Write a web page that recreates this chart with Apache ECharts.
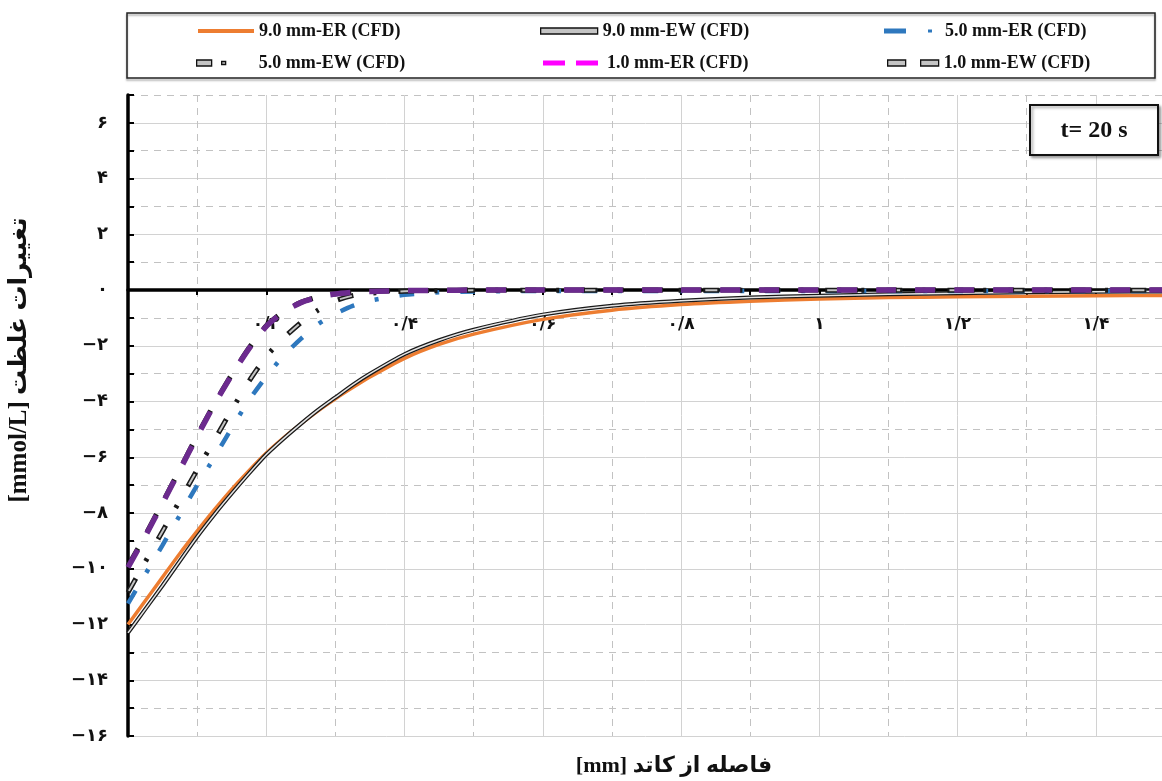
<!DOCTYPE html>
<html>
<head>
<meta charset="utf-8">
<script src="https://cdn.jsdelivr.net/npm/echarts@6/dist/echarts.min.js"></script>
<style>
  html, body { margin: 0; padding: 0; background: #ffffff; }
  #chart { width: 1162px; height: 781px; }
</style>
</head>
<body>
<div id="chart"></div>
<script>
// Distance from the cathode [mm]
const xs = [0, 0.025, 0.05, 0.075, 0.1, 0.125, 0.15, 0.175, 0.2, 0.225, 0.25, 0.275, 0.3, 0.325, 0.35,
            0.4, 0.45, 0.5, 0.6, 0.7, 0.8, 0.9, 1.0, 1.1, 1.2, 1.3, 1.4, 1.5];

// Concentration change [mmol/L] at t = 20 s
const er90 = [-12.0, -11.15, -10.3, -9.45, -8.65, -7.88, -7.15, -6.48, -5.85, -5.3, -4.8, -4.33, -3.9, -3.5, -3.12,
              -2.45, -1.95, -1.58, -1.05, -0.72, -0.52, -0.4, -0.32, -0.27, -0.24, -0.22, -0.2, -0.19];
const ew90 = [-12.3, -11.45, -10.6, -9.72, -8.85, -8.05, -7.3, -6.58, -5.9, -5.33, -4.8, -4.3, -3.85, -3.4, -3.0,
              -2.3, -1.8, -1.42, -0.88, -0.56, -0.38, -0.27, -0.2, -0.15, -0.11, -0.08, -0.06, -0.05];
const er50 = [-11.25, -10.2, -9.15, -8.08, -7.0, -6.0, -4.95, -3.95, -3.1, -2.35, -1.75, -1.22, -0.85, -0.57, -0.38,
              -0.17, -0.08, -0.05, -0.03, -0.03, -0.03, -0.03, -0.03, -0.03, -0.03, -0.03, -0.03, -0.03];
const ew50 = [-10.85, -9.75, -8.65, -7.55, -6.45, -5.38, -4.3, -3.27, -2.38, -1.72, -1.17, -0.72, -0.38, -0.2, -0.11,
              -0.04, -0.02, -0.01, -0.01, -0.01, -0.01, -0.01, -0.01, -0.01, -0.01, -0.01, -0.01, -0.01];
const er10 = [-9.95, -8.83, -7.65, -6.45, -5.25, -4.1, -3.05, -2.1, -1.3, -0.78, -0.45, -0.25, -0.14, -0.08, -0.05,
              -0.02, -0.01, 0, 0, 0, 0, 0, 0, 0, 0, 0, 0, 0];
const ew10 = [-9.9, -8.8, -7.62, -6.43, -5.22, -4.08, -3.03, -2.08, -1.28, -0.77, -0.44, -0.24, -0.13, -0.07, -0.04,
              -0.02, -0.01, 0, 0, 0, 0, 0, 0, 0, 0, 0, 0, 0];

const seriesNames = ['9.0 mm-ER (CFD)', '9.0 mm-EW (CFD)', '5.0 mm-ER (CFD)',
                     '5.0 mm-EW (CFD)', '1.0 mm-ER (CFD)', '1.0 mm-EW (CFD)'];

// Axis ranges and tick labels (Persian digits)
const xMin = 0, xMax = 1.5, xStep = 0.1;
const yMin = -16, yMax = 7, yStep = 1;
const yTickValues = [6, 4, 2, 0, -2, -4, -6, -8, -10, -12, -14, -16];
const yTickLabels = ['۶', '۴', '۲', '۰', '−۲', '−۴', '−۶', '−۸', '−۱۰', '−۱۲', '−۱۴', '−۱۶'];
const xTickValues = [0.2, 0.4, 0.6, 0.8, 1.0, 1.2, 1.4];
const xTickLabels = ['۰/۲', '۰/۴', '۰/۶', '۰/۸', '۱', '۱/۲', '۱/۴'];

// Titles (RTL embedding keeps the Persian phrase in logical order)
const xTitle = '\u202Bفاصله از کاتد [mm]\u202C';
const yTitle = '\u202Bتغییرات غلظت [mmol/L]\u202C';
const timeLabel = 't= 20 s';

const W = 1162, H = 781;
const gridBox = { left: 128, top: 95, right: -3, bottom: 45 };
// the labelled x axis runs along y = 0 inside the plot
const plotH = H - gridBox.top - gridBox.bottom;
const zeroDrop = plotH * (yMax - 0) / (yMax - yMin);

const pts = vals => xs.map((x, i) => [x, vals[i]]);

const lineBase = {
  type: 'line', symbol: 'none', smooth: 0.2,
  xAxisIndex: 0, yAxisIndex: 0, silent: true, animation: false
};

const serifBold = { fontFamily: '"Liberation Serif", "DejaVu Sans", serif', fontWeight: 'bold' };
const legendCommon = {
  orient: 'horizontal', padding: 0, itemGap: 0,
  textStyle: Object.assign({ fontSize: 18, color: '#111', lineHeight: 20 }, serifBold)
};
const outline = { color: '#c4c4c4', borderColor: '#111', borderWidth: 1.3 };

const findLabel = (vals, labels, v) => {
  for (let i = 0; i < vals.length; i++) if (Math.abs(vals[i] - v) < 1e-6) return labels[i];
  return '';
};

const chart = echarts.init(document.getElementById('chart'), null, { renderer: 'canvas' });

chart.setOption({
  backgroundColor: '#ffffff',
  animation: false,
  grid: Object.assign({ outerBoundsMode: 'none' }, gridBox),
  legend: [
    Object.assign({}, legendCommon, {
      left: 198, top: 21, itemWidth: 56, itemHeight: 4,
      data: [{ name: seriesNames[0], icon: 'rect', itemStyle: { color: '#ED7D31', borderWidth: 0 } }]
    }),
    Object.assign({}, legendCommon, {
      left: 540, top: 21, itemWidth: 57, itemHeight: 6,
      data: [{ name: seriesNames[1], icon: 'rect', itemStyle: outline }]
    }),
    Object.assign({}, legendCommon, {
      left: 884, top: 21, itemWidth: 48, itemHeight: 5,
      textStyle: Object.assign({}, legendCommon.textStyle, { padding: [0, 0, 0, 8] }),
      data: [{ name: seriesNames[2], icon: 'path://M0,0H22V5H0ZM44,1H48V4H44Z',
               itemStyle: { color: '#2E78BE', borderWidth: 0 } }]
    }),
    Object.assign({}, legendCommon, {
      left: 196, top: 53, itemWidth: 29, itemHeight: 6,
      textStyle: Object.assign({}, legendCommon.textStyle, { padding: [0, 0, 0, 28] }),
      data: [{ name: seriesNames[3], icon: 'path://M0,0H15V6H0ZM25,1.5H29V4.5H25Z', itemStyle: outline }]
    }),
    Object.assign({}, legendCommon, {
      left: 543, top: 53, itemWidth: 55, itemHeight: 5,
      textStyle: Object.assign({}, legendCommon.textStyle, { padding: [0, 0, 0, 4] }),
      data: [{ name: seriesNames[4], icon: 'path://M0,0H22V5H0ZM33,0H55V5H33Z',
               itemStyle: { color: '#FF00FF', borderWidth: 0 } }]
    }),
    Object.assign({}, legendCommon, {
      left: 887, top: 53, itemWidth: 51, itemHeight: 6,
      data: [{ name: seriesNames[5], icon: 'path://M0,0H18V6H0ZM33,0H51V6H33Z', itemStyle: outline }]
    })
  ],
  xAxis: [
    {
      // labelled axis, shifted down onto the zero line
      type: 'value', min: xMin, max: xMax, interval: xStep,
      position: 'top', offset: -zeroDrop,
      axisLine: { show: true, onZero: false, lineStyle: { color: '#000', width: 3.5 } },
      axisTick: { show: true, inside: true, length: 5, lineStyle: { color: '#000', width: 2 } },
      axisLabel: {
        inside: true, interval: 0, margin: 26, fontSize: 17, fontWeight: 'bold', color: '#111',
        fontFamily: '"DejaVu Sans", sans-serif',
        formatter: v => findLabel(xTickValues, xTickLabels, v)
      },
      splitLine: { show: true, lineStyle: { color: ['#d2d2d2', 'rgba(0,0,0,0)'], width: 1, type: 'solid' } }
    },
    {
      type: 'value', min: xMin, max: xMax, interval: xStep, position: 'bottom',
      axisLine: { show: false, onZero: false }, axisTick: { show: false }, axisLabel: { show: false },
      splitLine: { show: true, lineStyle: { color: ['rgba(0,0,0,0)', '#c2c2c2'], width: 1, type: [7, 6] } }
    }
  ],
  yAxis: [
    {
      type: 'value', min: yMin, max: yMax, interval: yStep,
      axisLine: { show: true, onZero: false, lineStyle: { color: '#000', width: 3.5 } },
      axisTick: { show: true, inside: true, length: 6, lineStyle: { color: '#000', width: 2 } },
      axisLabel: {
        interval: 0, margin: 20, fontSize: 18, fontWeight: 'bold', color: '#111',
        fontFamily: '"DejaVu Sans", sans-serif',
        formatter: v => findLabel(yTickValues, yTickLabels, v)
      },
      splitLine: { show: true, lineStyle: { color: ['#d2d2d2', 'rgba(0,0,0,0)'], width: 1, type: 'solid' } }
    },
    {
      type: 'value', min: yMin, max: yMax, interval: yStep, position: 'left',
      axisLine: { show: false, onZero: false }, axisTick: { show: false }, axisLabel: { show: false },
      splitLine: { show: true, lineStyle: { color: ['rgba(0,0,0,0)', '#c2c2c2'], width: 1, type: [7, 6] } }
    }
  ],
  series: [
    Object.assign({}, lineBase, { name: seriesNames[0], data: pts(er90), z: 4, color: '#ED7D31',
      lineStyle: { color: '#ED7D31', width: 3.5 } }),
    Object.assign({}, lineBase, { name: seriesNames[1], data: pts(ew90), z: 5, color: '#1a1a1a',
      lineStyle: { color: '#1a1a1a', width: 4 } }),
    Object.assign({}, lineBase, { name: seriesNames[1], data: pts(ew90), z: 6, color: '#1a1a1a',
      lineStyle: { color: '#e4e4e4', width: 1.5 } }),
    Object.assign({}, lineBase, { name: seriesNames[2], data: pts(er50), z: 7, color: '#2E78BE',
      lineStyle: { color: '#2E78BE', width: 4.5, type: [15, 21, 4, 21], cap: 'butt' } }),
    Object.assign({}, lineBase, { name: seriesNames[3], data: pts(ew50), z: 8, color: '#1a1a1a',
      lineStyle: { color: '#1a1a1a', width: 5, type: [16, 20, 3, 22], cap: 'butt' } }),
    Object.assign({}, lineBase, { name: seriesNames[3], data: pts(ew50), z: 9, color: '#1a1a1a',
      lineStyle: { color: '#c4c4c4', width: 2, type: [12, 49], dashOffset: -2, cap: 'butt' } }),
    Object.assign({}, lineBase, { name: seriesNames[5], data: pts(ew10), z: 10, color: '#1a1a1a',
      lineStyle: { color: '#1a1a1a', width: 5, type: [20, 19], cap: 'butt' } }),
    Object.assign({}, lineBase, { name: seriesNames[5], data: pts(ew10), z: 11, color: '#1a1a1a',
      lineStyle: { color: '#c4c4c4', width: 2, type: [16, 23], dashOffset: -2, cap: 'butt' } }),
    Object.assign({}, lineBase, { name: seriesNames[4], data: pts(er10), z: 12, color: '#6C2A8E',
      lineStyle: { color: '#6C2A8E', width: 5.5, type: [20, 19], cap: 'butt' } })
  ],
  graphic: [
    { type: 'rect', z: 50, silent: true,
      shape: { x: 127, y: 13, width: 1028, height: 65 },
      style: { fill: 'rgba(0,0,0,0)', stroke: '#222', lineWidth: 1.5,
               shadowBlur: 2, shadowOffsetX: 0, shadowOffsetY: 2, shadowColor: 'rgba(0,0,0,0.35)' } },
    { type: 'rect', z: 50, silent: true,
      shape: { x: 1030, y: 105, width: 128, height: 50 },
      style: { fill: '#ffffff', stroke: '#111', lineWidth: 2,
               shadowBlur: 3, shadowOffsetX: 2, shadowOffsetY: 2, shadowColor: 'rgba(0,0,0,0.35)' } },
    { type: 'text', z: 51, silent: true, x: 1094, y: 131,
      style: { text: timeLabel, font: 'bold 24px "Liberation Serif", serif', fill: '#111',
               textAlign: 'center', textVerticalAlign: 'middle' } },
    { type: 'text', z: 51, silent: true, x: 674, y: 766,
      style: { text: xTitle, font: 'bold 22px "Liberation Serif", "DejaVu Sans", serif', fill: '#111',
               textAlign: 'center', textVerticalAlign: 'middle' } },
    { type: 'text', z: 51, silent: true, x: 20, y: 360, rotation: Math.PI / 2,
      style: { text: yTitle, font: 'bold 25px "Liberation Serif", "DejaVu Sans", serif', fill: '#111',
               textAlign: 'center', textVerticalAlign: 'middle' } }
  ]
});
</script>
</body>
</html>
